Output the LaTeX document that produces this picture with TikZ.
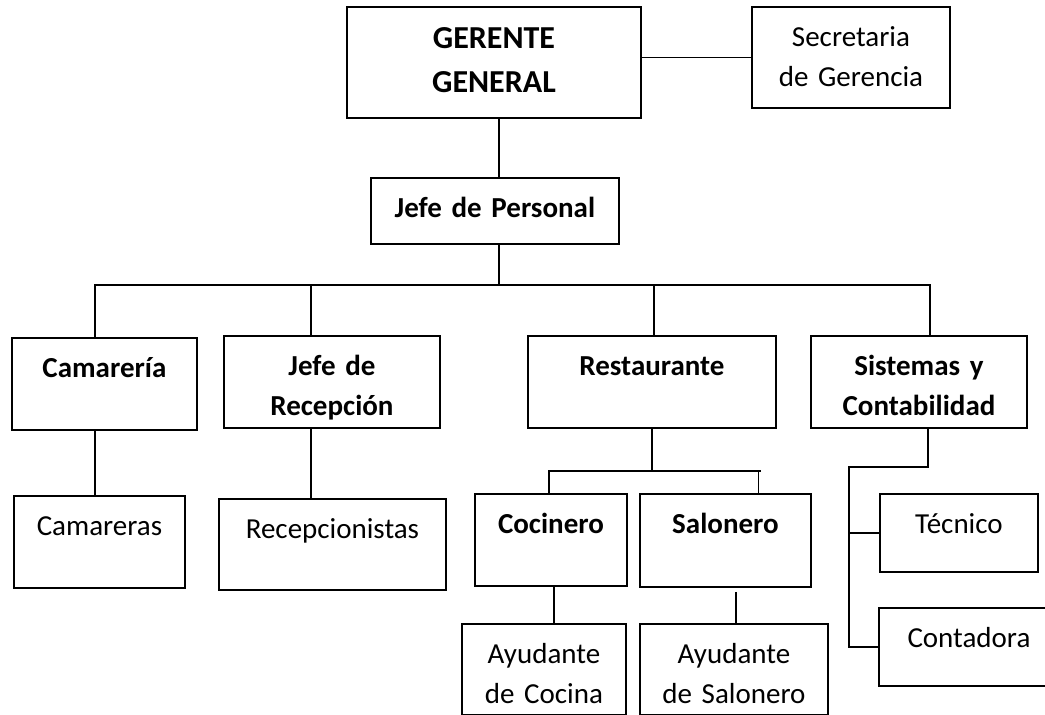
\documentclass[tikz,border=0pt]{standalone}
\usepackage{fontspec}
\setmainfont{Carlito}
\usetikzlibrary{calc}

\begin{document}
\begin{tikzpicture}[
    x=1pt, y=-1pt,
    box/.style={rectangle, draw=black, line width=1.9pt, anchor=north west,
                inner sep=0pt, align=center, text height=40pt,
                font=\fontsize{29}{40}\selectfont},
    bbox/.style={box, font=\fontsize{29}{40}\selectfont\bfseries},
    link/.style={line width=1.9pt, color=black},
]
\useasboundingbox (0,0) rectangle (1045,715);

% top level
\node[bbox, text width=294pt, text height=42pt, text depth=69pt,
      font=\fontsize{32}{44}\selectfont\bfseries] (ger) at (346,6) {GERENTE\\GENERAL};
\node[box, text width=198pt, text depth=61pt] (sec) at (751,6) {Secretaria\\de Gerencia};
\node[bbox, text width=248pt, text depth=26pt] (jper) at (370,177) {Jefe de Personal};

% departments
\node[bbox, text width=185pt, text depth=52pt] (cam) at (11,337) {Camarería};
\node[bbox, text width=216pt, text depth=52pt] (jrec) at (223,335) {Jefe de\\Recepción};
\node[bbox, text width=248pt, text depth=52pt] (rest) at (527,335) {Restaurante};
\node[bbox, text width=216pt, text depth=52pt] (sis) at (810,335) {Sistemas y\\Contabilidad};

% staff
\node[box, text width=171pt, text depth=52pt] (cams) at (13,495) {Camareras};
\node[box, text width=227pt, text depth=51pt] (recs) at (218,498) {Recepcionistas};
\node[bbox, text width=152pt, text depth=52pt] (coc) at (474,493) {Cocinero};
\node[bbox, text width=171pt, text depth=53pt] (sal) at (639,493) {Salonero};
\node[box, text width=164pt, text depth=51pt] (ayc) at (461,623) {Ayudante\\de Cocina};
\node[box, text width=188pt, text depth=51pt] (ays) at (639,623) {Ayudante\\de Salonero};
\node[box, text width=158pt, text depth=38pt] (tec) at (879,493) {Técnico};
\node[box, text width=180pt, text depth=38pt] (con) at (878,607) {Contadora};

\draw[link] (sec.west) -- (sec.west -| ger.east);
\draw[link] ([xshift=5pt]ger.south) -- ([xshift=5pt]ger.south |- jper.north);
\draw[link] ([xshift=4pt]jper.south) -- ++(0,40) coordinate (hub);
\draw[link] ([xshift=-9.5pt]cam.north) |- (hub) -| ([xshift=11pt]sis.north);
\draw[link] ([xshift=-21pt]jrec.north) -- ([xshift=-21pt]jrec.north |- hub);
\draw[link] ([xshift=2pt]rest.north) -- ([xshift=2pt]rest.north |- hub);

\draw[link] ([xshift=-9.5pt]cam.south) -- ([xshift=-9.5pt]cam.south |- cams.north);
\draw[link] ([xshift=-21pt]jrec.south) -- ([xshift=-21pt]jrec.south |- recs.north);

\draw[link] (rest.south) -- ++(0,42) coordinate (rhub);
\draw[link] ([xshift=-2pt]coc.north) |- ([xshift=36pt]sal.north |- rhub);
\draw[link] ([xshift=33pt]sal.north) -- ([xshift=33pt]sal.north |- rhub);
\draw[link] ([xshift=3pt]coc.south) -- ([xshift=3pt]coc.south |- ayc.north);
\draw[link] ([xshift=10.5pt,yshift=-4pt]sal.south) -- ([xshift=10.5pt]sal.south |- ays.north);

\draw[link] ([xshift=9pt]sis.south) |- ++(-79,38) coordinate (shub) |- (con.west);
\draw[link] (shub |- tec.west) -- (tec.west);

\end{tikzpicture}
\end{document}
